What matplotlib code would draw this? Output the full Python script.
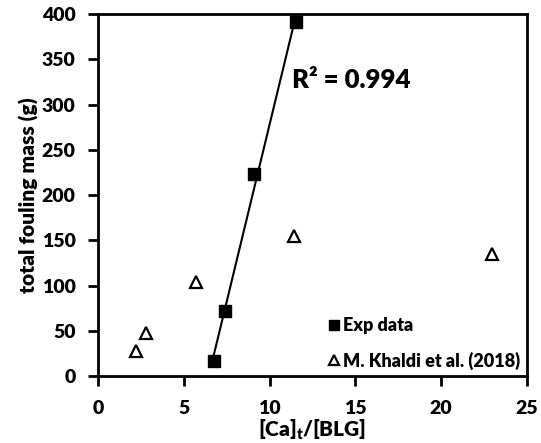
import numpy as np
import matplotlib
matplotlib.use("Agg")
import matplotlib.pyplot as plt

# data
exp_x = [6.75, 7.42, 9.07, 11.55]
exp_y = [17, 72, 223, 391]
khaldi_x = [2.22, 2.82, 5.69, 11.45, 22.98]
khaldi_y = [28, 48, 104, 155, 135]

plt.rcParams["font.family"] = ["Lato", "DejaVu Sans"]
plt.rcParams["font.weight"] = "heavy"
plt.rcParams["mathtext.fontset"] = "custom"
plt.rcParams["mathtext.rm"] = "Lato:heavy"
plt.rcParams["mathtext.it"] = "Lato:heavy"
plt.rcParams["mathtext.bf"] = "Lato:heavy"

fig = plt.figure(figsize=(5.41, 4.43), dpi=100)
ax = fig.add_axes([0.181, 0.151, 0.793, 0.817])

# linear trendline through the experimental points
a, b = np.polyfit(exp_x, exp_y, 1)
xl = np.array([min(exp_x), max(exp_x)])
ax.plot(xl, a * xl + b, color="black", lw=1.5, zorder=2)

ax.plot(exp_x, exp_y, "s", color="black", ms=8.5, label="Exp data", zorder=3)
ax.plot(khaldi_x, khaldi_y, "^", mfc="white", mec="black", mew=1.6, ms=8,
        linestyle="none", label="M. Khaldi et al. (2018)", zorder=3)

ax.text(11.3, 327, "R² = 0.994", fontsize=18.5, fontweight="heavy", va="center")

ax.set_xlim(0, 25)
ax.set_ylim(0, 400)
ax.set_xticks([0, 5, 10, 15, 20, 25])
ax.set_yticks(range(0, 401, 50))
for s in ax.spines.values():
    s.set_linewidth(2)
ax.tick_params(direction="out", length=7, width=2, labelsize=14)
ax.tick_params(axis="x", pad=10)
ax.tick_params(axis="y", pad=9)

ax.set_xlabel(r"[Ca]$_{\mathrm{t}}$/[BLG]", fontsize=15, fontweight="heavy", labelpad=1)
ax.set_ylabel("total fouling mass (g)", fontsize=15, fontweight="heavy", labelpad=2)

ax.legend(loc="lower right", frameon=False, fontsize=13, handlelength=0.6,
          handletextpad=0.25, labelspacing=0.95, borderaxespad=0.15,
          borderpad=0.2, markerscale=0.85)

fig.savefig("out.png", dpi=100)
